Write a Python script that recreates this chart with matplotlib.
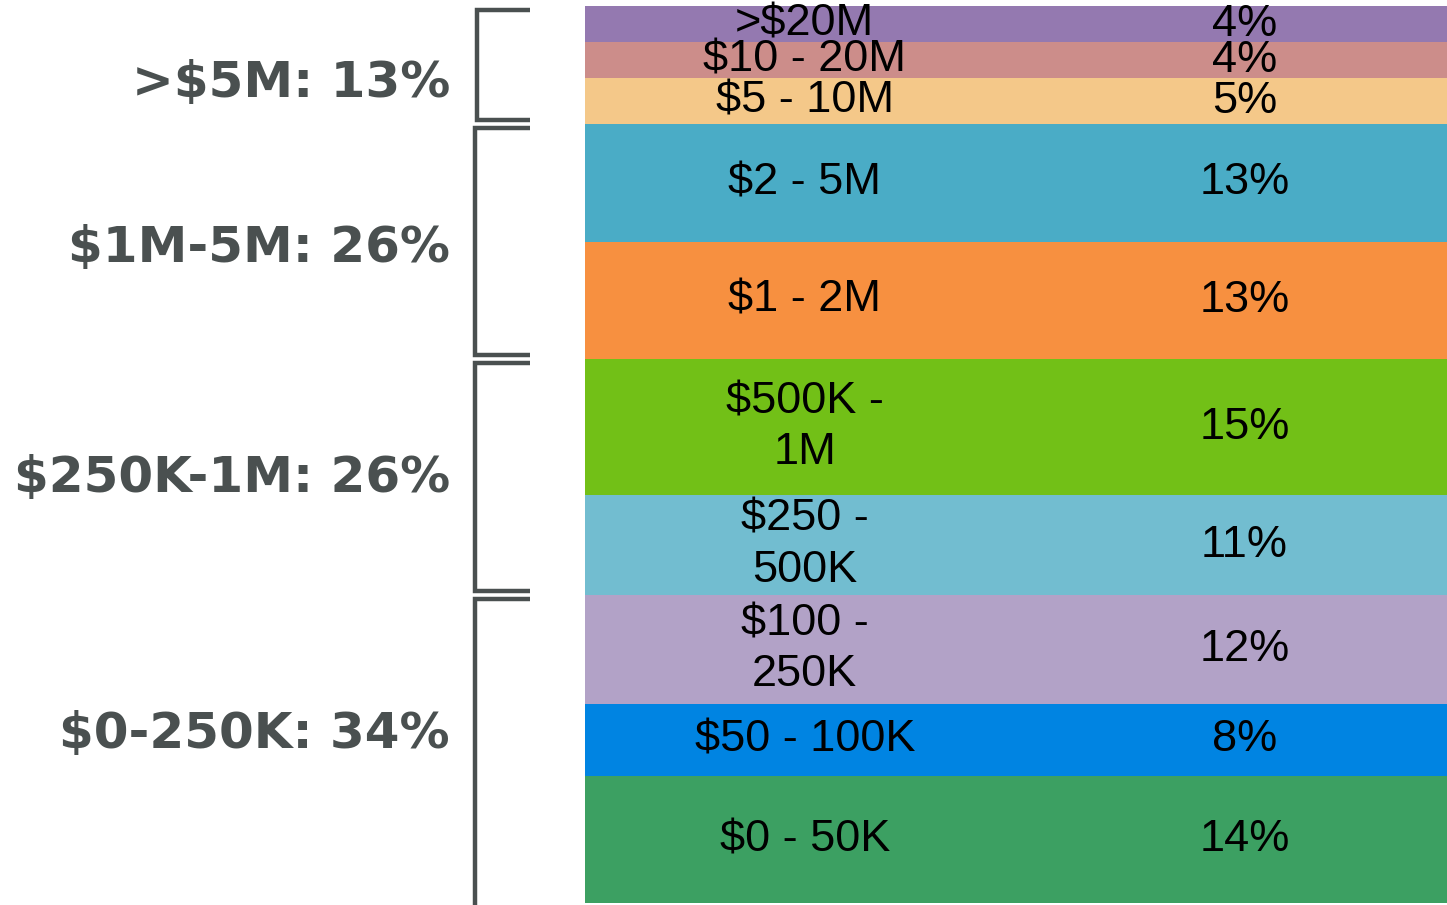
import matplotlib.pyplot as plt
import numpy as np

# revenue bands, bottom to top
bands = ["$0 - 50K", "$50 - 100K", "$100 -\n250K", "$250 -\n500K", "$500K -\n1M",
         "$1 - 2M", "$2 - 5M", "$5 - 10M", "$10 - 20M", ">$20M"]
shares = [14, 8, 12, 11, 15, 13, 13, 5, 4, 4]
colors = ["#3ca062", "#0084e2", "#b2a2c7", "#72bdd0", "#72c017",
          "#f79040", "#4aacc6", "#f4c889", "#cc8d8a", "#9479b0"]

# roll-up groups: (label, first band index, last band index)
groups = ["$0-250K: 34%", "$250K-1M: 26%", "$1M-5M: 26%", ">$5M: 13%"]
group_spans = [(0, 2), (3, 4), (5, 6), (7, 9)]

W, H = 1447, 905
fig = plt.figure(figsize=(W / 100, H / 100), dpi=100)

bar_left, bar_right = 585 / W, 1.0
bar_bottom, bar_top = (H - 903) / H, (H - 6) / H
ax = fig.add_axes([bar_left, bar_bottom, bar_right - bar_left, bar_top - bar_bottom])

total = sum(shares)
bottoms = np.concatenate([[0], np.cumsum(shares)[:-1]])
for name, val, bot, col in zip(bands, shares, bottoms, colors):
    ax.bar(0.5, val, bottom=bot, width=1.0, color=col, edgecolor="none")
    yc = bot + val / 2
    ax.text(0.255, yc, name, ha="center", va="center", fontsize=32.5,
            family="Liberation Sans", color="black", linespacing=1.32)
    ax.text(0.765, yc, f"{val}%", ha="center", va="center", fontsize=32.5,
            family="Liberation Sans", color="black")
ax.set_xlim(0, 1)
ax.set_ylim(0, total)
ax.axis("off")

# bracket panel shares the y scale of the bar
bx = fig.add_axes([0, bar_bottom, bar_left, bar_top - bar_bottom], sharey=ax)
bx.set_xlim(0, 585)
bx.axis("off")

gap = 0.45
label_shift = [1.65, -0.1, -0.66, -2.0]
line_kw = dict(color="#4a5050", lw=3.2, solid_capstyle="butt", solid_joinstyle="miter")
for i, (label, (lo, hi)) in enumerate(zip(groups, group_spans)):
    y0 = bottoms[lo]
    y1 = bottoms[hi] + shares[hi]
    top = y1 - gap
    bot = y0 + gap if i > 0 else -1
    xv = 477 - 2 * (i < 3)
    if i == 0:
        bx.plot([xv, xv, 530], [bot, top, top], clip_on=False, **line_kw)
    else:
        bx.plot([530, xv, xv, 530], [bot, bot, top, top], **line_kw)
    bx.text(450, (y0 + y1) / 2 + label_shift[i], label, ha="right", va="center",
            fontsize=36, fontweight="bold", family="DejaVu Sans", color="#4a5050")

fig.savefig("out.png", dpi=100)
